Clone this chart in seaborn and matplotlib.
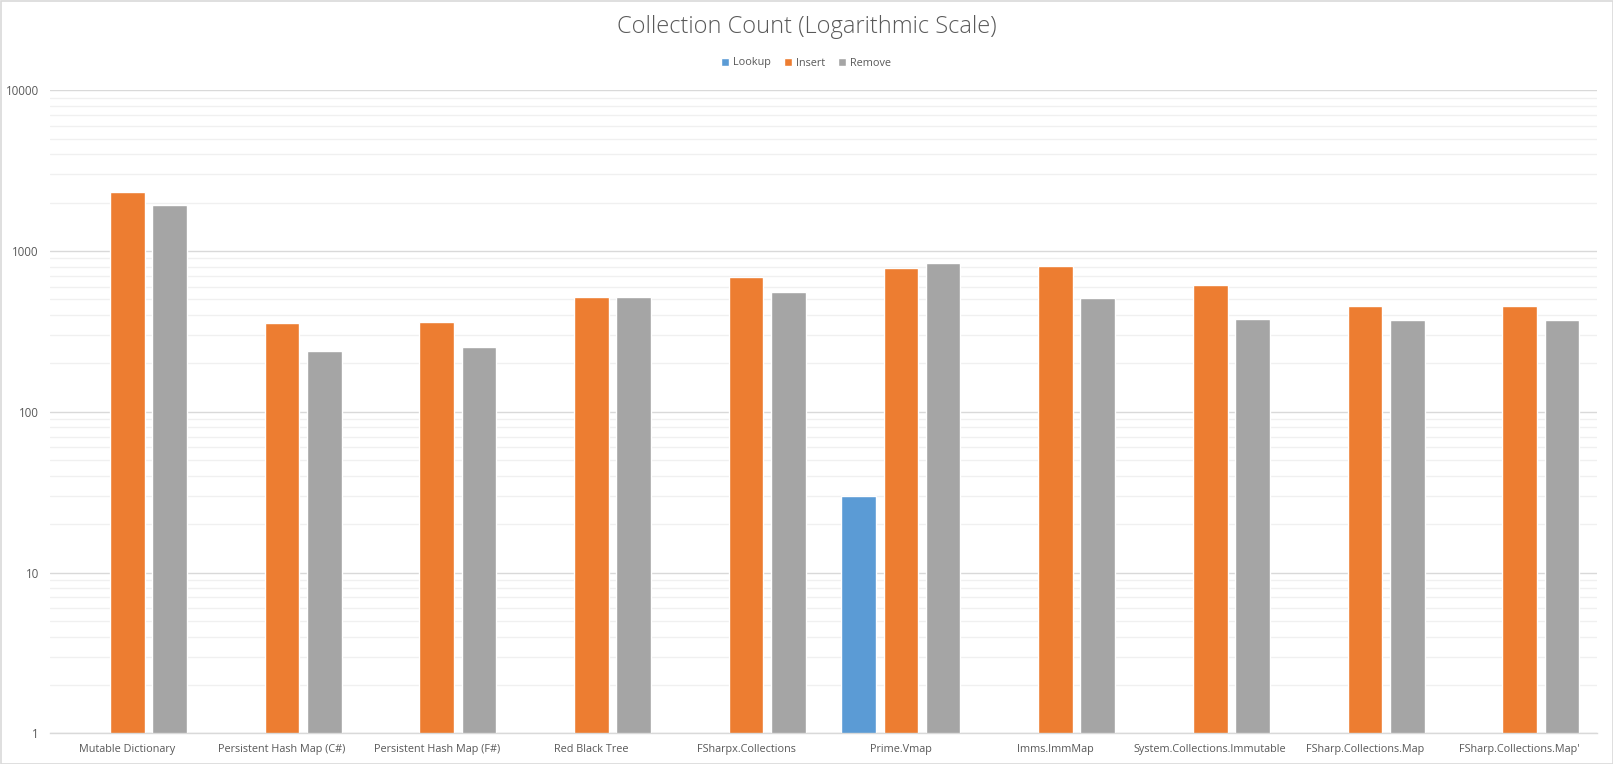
import numpy as np
import pandas as pd
import matplotlib
matplotlib.use("Agg")
import matplotlib.pyplot as plt
from matplotlib.ticker import FixedLocator, LogLocator, NullFormatter
from matplotlib.patches import Rectangle
import seaborn as sns

categories = ["Mutable Dictionary", "Persistent Hash Map (C#)", "Persistent Hash Map (F#)",
              "Red Black Tree", "FSharpx.Collections", "Prime.Vmap", "Imms.ImmMap",
              "System.Collections.Immutable", "FSharp.Collections.Map", "FSharp.Collections.Map'"]
lookup = [np.nan, np.nan, np.nan, np.nan, np.nan, 30, np.nan, np.nan, np.nan, np.nan]
insert = [2330, 356, 361, 515, 692, 785, 813, 615, 458, 458]
remove = [1934, 239, 254, 515, 555, 843, 508, 378, 373, 373]
series = ["Lookup", "Insert", "Remove"]
colors = ["#5B9BD5", "#ED7D31", "#A5A5A5"]
yticks = [1, 10, 100, 1000, 10000]
title = "Collection Count (Logarithmic Scale)"

rows = []
for s, vals in zip(series, [lookup, insert, remove]):
    for c, v in zip(categories, vals):
        rows.append({"Category": c, "Series": s, "Value": v})
df = pd.DataFrame(rows)

sns.set_theme(style="white")
plt.rcParams["font.family"] = ["Open Sans", "DejaVu Sans"]

fig = plt.figure(figsize=(16.13, 7.64), dpi=100)
ax = fig.add_axes([50/1613, 1-733.3/764, (1597-50)/1613, (733.3-90.3)/764])
ax.set_yscale("log")
sns.barplot(data=df, x="Category", y="Value", hue="Series", order=categories,
            hue_order=series, palette=colors, errorbar=None, width=0.82, gap=0.18,
            saturation=1, ax=ax, legend=True)

ax.set_ylim(1, 10000)
ax.set_xlim(-0.5, len(categories) - 0.5)
ax.yaxis.set_major_locator(FixedLocator(yticks))
ax.set_yticklabels([str(t) for t in yticks])
ax.yaxis.set_minor_locator(LogLocator(base=10, subs=np.arange(2, 10)))
ax.yaxis.set_minor_formatter(NullFormatter())
ax.grid(True, which="major", axis="y", color="#D9D9D9", linewidth=1.0)
ax.grid(True, which="minor", axis="y", color="#F0F0F0", linewidth=1.0)
ax.set_axisbelow(True)
for side in ["left", "right", "top"]:
    ax.spines[side].set_visible(False)
ax.spines["bottom"].set_color("#D9D9D9")
ax.spines["bottom"].set_linewidth(1.0)
ax.tick_params(axis="both", which="both", length=0, colors="#595959", labelsize=7.8)
ax.tick_params(axis="y", labelsize=8.3)
ax.tick_params(axis="x", pad=8)
ax.tick_params(axis="y", pad=8)
ax.set_xlabel("")
ax.set_ylabel("")

handles, labels = ax.get_legend_handles_labels()
if ax.legend_:
    ax.legend_.remove()
fig.legend(handles, labels, loc="center", bbox_to_anchor=(806/1613, 1-63/764), ncol=3,
           frameon=False, fontsize=7.8, handlelength=0.7, handleheight=0.7,
           handletextpad=0.4, columnspacing=1.2, labelcolor="#595959")

fig.text(0.5, 1-27/764, title, ha="center", va="center", fontsize=17,
         color="#595959", fontweight="light")

fig.patches.append(Rectangle((0.5/1613, 0.5/764), 1-1/1613, 1-1/764, transform=fig.transFigure,
                             fill=False, edgecolor="#D9D9D9", linewidth=1.2))

fig.savefig("out.png", dpi=100)
